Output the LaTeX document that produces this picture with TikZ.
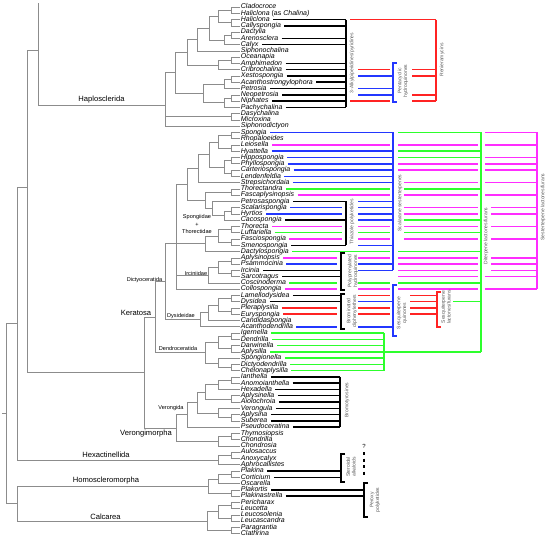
\documentclass[tikz,border=0pt]{standalone}
\usepackage{fontspec}
\setmainfont{Liberation Sans}
\definecolor{tred}{RGB}{255,35,35}
\definecolor{tblue}{RGB}{35,55,255}
\definecolor{tgreen}{RGB}{45,255,45}
\definecolor{tmag}{RGB}{255,45,255}
\begin{document}
\begin{tikzpicture}[x=1pt, y=-1pt,
    br/.style={draw=black!45, line width=0.55pt},
    leaf/.style={anchor=west, inner sep=1.2pt, text height=5pt, text depth=1.4pt,
      font=\fontsize{7}{8}\selectfont\itshape},
    grp/.style={inner sep=0pt, font=\fontsize{7.6}{9}\selectfont},
    sub/.style={inner sep=0pt, align=center, font=\fontsize{5.6}{7.3}\selectfont},
    rot/.style={rotate=90, inner sep=0pt, align=center, text=black!65,
      font=\fontsize{5}{5.8}\selectfont},
    hl/.style={line width=1.5pt},
    lk/.style={hl, draw=black}, lr/.style={hl, draw=tred},
    lb/.style={hl, draw=tblue}, lg/.style={hl, draw=tgreen},
    lm/.style={hl, draw=tmag},
  ]
  \useasboundingbox (0,0) rectangle (550,541);

  % taxa
  \foreach \n [count=\i] in {Cladocroce, {Haliclona {\upshape(as} Chalina)}, Haliclona,
      Callyspongia, Dactylia, Arenosclera, Calyx, Siphonochalina, Oceanapia, Amphimedon,
      Cribrochalina, Xestospongia, Acanthostrongylophora, Petrosia, Neopetrosia, Niphates,
      Pachychalina, Dasychalina, Microxina, Siphonodictyon, Spongia, Rhopaloeides,
      Leiosella, Hyattella, Hippospongia, Phyllospongia, Carteriospongia, Lendenfeldia,
      Strepsichordaia, Thorectandra, Fascaplysinopsis, Petrosaspongia, Scalarispongia,
      Hyrtios, Cacospongia, Thorecta, Luffariella, Fasciospongia, Smenospongia,
      Dactylospongia, Aplysinopsis, Psammocinia, Ircinia, Sarcotragus, Coscinoderma,
      Collospongia, Lamellodysidea, Dysidea, Pleraplysilla, Euryspongia, Candidaspongia,
      Acanthodendrilla, Igernella, Dendrilla, Darwinella, Aplysilla, Spongionella,
      Dictyodendrilla, Chelonaplysilla, Ianthella, Anomoianthella, Hexadella, Aplysinella,
      Aiolochroia, Verongula, Aplysina, Suberea, Pseudoceratina, Thymosiopsis, Chondrilla,
      Chondrosia, Aulosaccus, Anoxycalyx, Aphrocallistes, Plakina, Corticium, Oscarella,
      Plakortis, Plakinastrella, Pericharax, Leucetta, Leucosolenia, Leucascandra,
      Paragrantia, Clathrina}
    \node[leaf] (t\i) at (239.5, {7+(\i-1)*6.27}) {\n};

  % inner nodes of the tree
  \foreach \n/\x/\y in {h1/231/10.14, h2/231/22.68, h3/218/16.41, h4/231/35.22,
      h5/224/39.92, h6/209/28.17, h7/197/39.53, h8/231/60.30, h9/218/65.00,
      h10/187/52.27, h11/231/79.11, h12/224/83.81, h13/231/97.92, h14/224/102.62,
      h15/203/93.22, h16/175/72.74, h17/231/116.73, hap/165/105,
      a1/231/135.54, a2/231/148.08, a3/218/141.81, a4/231/160.62, a5/231/173.16,
      a6/224/166.89, a7/209/154.35, a8/198/168.46, b1/231/191.97, b2/231/210.78,
      b3/224/215.48, b4/212/208.43, b5/205/200.20, st/187/184.33, c1/231/229.59,
      c2/231/242.13, c3/218/235.86, c4/205/243.70, i1/231/260.94, i2/231/273.48,
      i3/218/267.21, irc/208/275.05, dic2/176/243.70, e1/231/298.56, e2/231/311.10,
      e3/218/304.83, e5/208/312.67, dys/200/319.72, dic/165/281.7,
      d1/231/336.18, d2/231/348.72, d3/218/342.45, d4/231/367.53, d5/218/362.83,
      den/205/352.64, ker/155/317.2, v1/231/380.07, v2/218/384.77, v3/231/398.88,
      v4/205/391.83, v5/231/417.69, v6/218/412.99, v7/197/402.41, ver/187/414.75,
      ch1/231/436.50, ch2/218/441.20, vm/176/427.98, kv/144/372.6,
      top/38/3, n38/38/50, n27/27/187, hex1/231/455.3, hex/218/460.0, n17a/17/323.5,
      o1/231/474.1, o2/218/478.8, o3/231/492.9, hom/208/485.9, q1/231/505.5,
      q2/231/518.0, q3/218/511.7, q4/231/530.5, cal/207/521.1, n17b/17/503.5,
      root/6/413.5, rt/2/413.5}
    \coordinate (\n) at (\x,\y);

  \foreach \p/\cs in {h1/{t1,t2}, h2/{t3,t4}, h3/{h1,h2}, h4/{t5,t6}, h5/{h4,t7},
      h6/{h3,h5}, h7/{h6,t8}, h8/{t9,t10}, h9/{h8,t11}, h10/{h7,h9}, h11/{t12,t13},
      h12/{h11,t14}, h13/{t15,t16}, h14/{h13,t17}, h15/{h12,h14}, h16/{h10,h15},
      h17/{t18,t19}, hap/{h16,h17,t20},
      a1/{t21,t22}, a2/{t23,t24}, a3/{a1,a2}, a4/{t25,t26}, a5/{t27,t28}, a6/{a4,a5},
      a7/{a3,a6}, a8/{a7,t29}, b1/{t30,t31}, b2/{t33,t34}, b3/{b2,t35}, b4/{t32,b3},
      b5/{b1,b4}, st/{a8,b5}, c1/{t36,t37}, c2/{t38,t39}, c3/{c1,c2}, c4/{c3,t40},
      i1/{t41,t42}, i2/{t43,t44}, i3/{i1,i2}, irc/{i3,t45}, dic2/{st,c4,irc,t46},
      e1/{t47,t48}, e2/{t49,t50}, e3/{e1,e2}, e5/{e3,t51}, dys/{e5,t52}, dic/{dic2,dys},
      d1/{t53,t54}, d2/{t55,t56}, d3/{d1,d2}, d4/{t58,t59}, d5/{t57,d4}, den/{d3,d5},
      ker/{dic,den}, v1/{t60,t61}, v2/{v1,t62}, v3/{t63,t64}, v4/{v2,v3}, v5/{t66,t67},
      v6/{t65,v5}, v7/{v4,v6}, ver/{v7,t68}, ch1/{t69,t70}, ch2/{ch1,t71}, vm/{ver,ch2},
      kv/{ker,vm}, n38/{top,hap}, n27/{n38,kv}, hex1/{t72,t73}, hex/{hex1,t74},
      n17a/{n27,hex}, o1/{t75,t76}, o2/{o1,t77}, o3/{t78,t79}, hom/{o2,o3},
      q1/{t80,t81}, q2/{t82,t83}, q3/{q1,q2}, q4/{t84,t85}, cal/{q3,q4},
      n17b/{hom,cal}, root/{n17a,n17b,rt}}
    \foreach \c in \cs \draw[br] (\p) |- (\c);

  % clade names
  \node[grp, anchor=south] at (101.5,103.5) {Haplosclerida};
  \node[grp, anchor=south] at (136,316) {Keratosa};
  \node[grp, anchor=north] at (146,429.5) {Verongimorpha};
  \node[grp, anchor=south] at (106,457.5) {Hexactinellida};
  \node[grp, anchor=south] at (106,484.5) {Homoscleromorpha};
  \node[grp, anchor=south] at (105.5,520) {Calcarea};
  \node[sub, anchor=south] at (144.5,282.5) {Dictyoceratida};
  \node[sub] at (197,224) {Spongiidae\\+\\Thorectidae};
  \node[sub, anchor=south] at (196,275.5) {Irciniidae};
  \node[sub, anchor=south] at (181,318.5) {Dysideidae};
  \node[sub, anchor=south] at (178,351) {Dendroceratida};
  \node[sub, anchor=south] at (171,411) {Verongida};

  % columns of the compound classes
  \foreach \n/\x in {pk/346, p0/342, pb/341, pc/337, bv/340, z1/350, zl/358, px/364,
      dn/384, s0/390, sb/393, z2/398, zs/404, zq/410, zh/412, rr/436, rq/437, zr/453,
      g0/478, gg/481, z3/485, zd/491, mm/537}
    \coordinate (\n) at (\x,0);

  % lines from the taxa
  \foreach \rw/\sty/\xe in {3/lk/pk, 4/lk/pk, 6/lk/pk, 7/lk/pk, 10/lk/pk, 11/lk/pk,
      12/lk/pk, 13/lk/pk, 14/lk/pk, 15/lk/pk, 16/lk/pk, 17/lk/pk,
      21/lb/sb, 23/lm/s0, 24/lb/sb, 25/lb/sb, 26/lb/sb, 27/lb/sb, 28/lb/sb, 29/lb/sb,
      30/lg/s0, 31/lm/s0, 32/lk/pk, 33/lb/p0, 34/lb/p0, 35/lk/pk, 36/lm/p0, 37/lg/p0,
      38/lm/p0, 39/lk/pk, 40/lg/s0, 41/lm/pc, 42/lb/pc, 43/lk/pb, 44/lk/pb, 45/lg/pc,
      46/lm/pc, 47/lk/pb, 48/lk/pb, 49/lr/pc, 50/lr/pc, 52/lb/pc,
      53/lg/dn, 54/lg/dn, 55/lg/dn, 56/lg/dn, 57/lg/dn, 58/lg/dn, 59/lg/dn,
      60/lk/bv, 61/lk/bv, 62/lk/bv, 63/lk/bv, 64/lk/bv, 65/lk/bv, 66/lk/bv, 67/lk/bv,
      68/lk/bv, 75/lk/pb, 76/lk/pb, 78/lk/px, 79/lk/px}
    \draw[\sty] ([xshift=2pt]t\rw.east) -- (t\rw -| \xe);

  % further pieces of the rows
  \draw[lr] (t3 -| z1) -- (t3 -| rr)  (t11 -| zl) -- (t11 -| s0)
    (t11 -| zh) -- (t11 -| rr)  (t12 -| zh) -- (t12 -| rr)  (t15 -| zh) -- (t15 -| rr)
    (t16 -| z1) -- (t16 -| s0)  (t16 -| zh) -- (t16 -| rr)
    (t47 -| zl) -- (t47 -| s0)  (t47 -| zq) -- (t47 -| rq)  (t48 -| zq) -- (t48 -| rq)
    (t49 -| zl) -- (t49 -| s0)  (t49 -| zq) -- (t49 -| rq)
    (t50 -| zl) -- (t50 -| s0)  (t50 -| zq) -- (t50 -| rq);
  \draw[lb] (t12 -| zl) -- (t12 -| sb)  (t14 -| zl) -- (t14 -| sb)
    (t15 -| zl) -- (t15 -| sb)  (t32 -| zl) -- (t32 -| sb)  (t33 -| zl) -- (t33 -| sb)
    (t34 -| zl) -- (t34 -| sb)  (t35 -| zl) -- (t35 -| sb)  (t39 -| zl) -- (t39 -| sb)
    (t42 -| zl) -- (t42 -| sb)  (t43 -| zl) -- (t43 -| sb)  (t48 -| zl) -- (t48 -| sb)
    (t52 -| zl) -- (t52 -| sb);
  \draw[lg] (t21 -| z2) -- (t21 -| gg)  (t24 -| z2) -- (t24 -| gg)
    (t25 -| z2) -- (t25 -| gg)  (t30 -| zs) -- (t30 -| gg)  (t35 -| zs) -- (t35 -| gg)
    (t37 -| zl) -- (t37 -| s0)  (t37 -| zs) -- (t37 -| gg)  (t40 -| z2) -- (t40 -| gg)
    (t45 -| zl) -- (t45 -| s0)  (t45 -| z2) -- (t45 -| gg)  (t48 -| zr) -- (t48 -| gg)
    (t56 -| dn) -- (t56 -| gg);
  \draw[lm] (t21 -| z3) -- (t21 -| mm)  (t23 -| z2) -- (t23 -| g0)
    (t23 -| z3) -- (t23 -| mm)  (t25 -| z3) -- (t25 -| mm)
    (t26 -| z2) -- (t26 -| g0)  (t26 -| z3) -- (t26 -| mm)
    (t27 -| z2) -- (t27 -| g0)  (t27 -| z3) -- (t27 -| mm)
    (t29 -| zs) -- (t29 -| g0)  (t29 -| z3) -- (t29 -| mm)
    (t31 -| zs) -- (t31 -| g0)  (t31 -| z3) -- (t31 -| mm)
    (t33 -| zs) -- (t33 -| g0)  (t33 -| zd) -- (t33 -| mm)
    (t34 -| zs) -- (t34 -| g0)  (t34 -| zd) -- (t34 -| mm)
    (t36 -| zl) -- (t36 -| s0)  (t36 -| zs) -- (t36 -| g0)  (t36 -| zd) -- (t36 -| mm)
    (t38 -| zl) -- (t38 -| s0)  (t38 -| zs) -- (t38 -| g0)  (t38 -| zd) -- (t38 -| mm)
    (t41 -| zl) -- (t41 -| s0)  (t41 -| z2) -- (t41 -| g0)  (t41 -| zd) -- (t41 -| mm)
    (t42 -| z2) -- (t42 -| g0)  (t42 -| zd) -- (t42 -| mm)
    (t43 -| z2) -- (t43 -| g0)  (t43 -| zd) -- (t43 -| mm)
    (t44 -| z2) -- (t44 -| g0)  (t44 -| z3) -- (t44 -| mm)
    (t46 -| zl) -- (t46 -| s0)  (t46 -| z2) -- (t46 -| g0)  (t46 -| z3) -- (t46 -| mm);

  % brackets and bars
  \draw[lk] (t3 -| pk) -- (t17 -| pk);
  \draw[lr] (t3 -| rr) -- (t16 -| rr);
  \draw[lb] (397,63) -- (393,63) -- (393,102) -- (397,102);
  \draw[lb] (t21 -| sb) -- (t43 -| sb);
  \draw[lg] (t21 -| gg) -- (t56 -| gg);
  \draw[lm] (t21 -| mm) -- (t46 -| mm);
  \draw[lk] (t32 -| pk) -- (t39 -| pk);
  \draw[lk] (345,253) -- (341,253) -- (341,290) -- (345,290);
  \draw[lk] (345,294) -- (341,294) -- (341,329) -- (345,329);
  \draw[lb] (397,285) -- (393,285) -- (393,336) -- (397,336);
  \draw[lr] (441,292) -- (437,292) -- (437,327) -- (441,327);
  \draw[lg] (t53 -| dn) -- (t59 -| dn);
  \draw[lk] (t60 -| bv) -- (t68 -| bv);
  \draw[lk] (345,454) -- (341,454) -- (341,482) -- (345,482);
  \draw[lk] (368,483) -- (364,483) -- (364,517) -- (368,517);
  \draw[hl, dash pattern=on 3pt off 3.5pt] (364,452) -- (364,477);
  \node[inner sep=0pt, font=\fontsize{6}{7}\selectfont] at (364,446) {?};

  % class names
  \node[rot] at (352,63) {3-Alkylpiperidines/pyridines};
  \node[rot] at (403,81) {Pentacyclic\\hydroquinones};
  \node[rot] at (442,60) {Renieramycins};
  \node[rot] at (400,203) {Scalarane sesterterpenes};
  \node[rot] at (486,236) {Diterpene lactones/furans};
  \node[rot] at (543,207) {Sesterterpene lactones/furans};
  \node[rot] at (352,222) {Thiazole polyketides};
  \node[rot] at (353,271) {Polyprenylated\\hydroquinones};
  \node[rot] at (352,311) {Brominated\\diphenylethers};
  \node[rot] at (402,313) {Sesquiterpene\\quinones};
  \node[rot] at (446,307) {Sesquiterpene\\lactones/furans};
  \node[rot] at (347,400) {Bromotyrosines};
  \node[rot] at (351,467) {Steroidal\\alkaloids};
  \node[rot] at (375,500) {Peroxy\\polyketides};
\end{tikzpicture}
\end{document}
